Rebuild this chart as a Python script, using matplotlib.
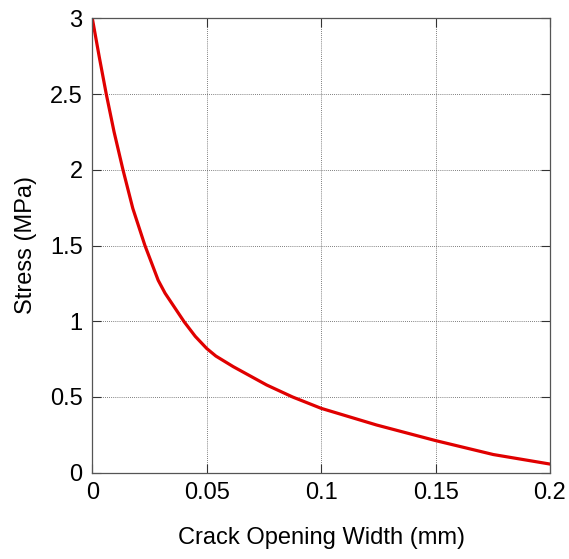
import matplotlib
matplotlib.use("Agg")
import matplotlib.pyplot as plt

width_mm = [0, 0.0031, 0.0061, 0.0095, 0.0134, 0.0177, 0.0230, 0.0288, 0.0318,
            0.0402, 0.0450, 0.0500, 0.0540, 0.0616, 0.0762, 0.0875, 0.1, 0.1242,
            0.15, 0.1752, 0.2]
stress_mpa = [3.0, 2.74, 2.5, 2.251, 2.0, 1.745, 1.5, 1.27, 1.185,
              0.995, 0.90, 0.82, 0.77, 0.70, 0.579, 0.5, 0.425, 0.315,
              0.212, 0.12, 0.057]
xticks = [0, 0.05, 0.1, 0.15, 0.2]
xtick_labels = ["0", "0.05", "0.1", "0.15", "0.2"]
yticks = [0, 0.5, 1, 1.5, 2, 2.5, 3]
ytick_labels = ["0", "0.5", "1", "1.5", "2", "2.5", "3"]

plt.rcParams['font.family'] = ['Liberation Sans', 'DejaVu Sans']

fig = plt.figure(figsize=(5.69, 5.59), dpi=100)
ax = fig.add_axes([92.3/569, 1-472.7/559, (550-92.3)/569, (472.7-18.3)/559])

ax.plot(width_mm, stress_mpa, color='#e00000', lw=2.3,
        solid_capstyle='round', solid_joinstyle='round')

ax.set_xlim(0, 0.2)
ax.set_ylim(0, 3)
ax.set_xticks(xticks)
ax.set_xticklabels(xtick_labels)
ax.set_yticks(yticks)
ax.set_yticklabels(ytick_labels)
ax.grid(True, linestyle=(0, (1, 1.5)), color='#555555', linewidth=0.6)
ax.tick_params(direction='in', length=6.5, width=0.8, colors='#333333',
               labelcolor='black', labelsize=17, top=True, right=True, pad=7)
for sp in ax.spines.values():
    sp.set_color('#555555')
    sp.set_linewidth(0.9)

ax.set_xlabel('Crack Opening Width (mm)', fontsize=17, labelpad=16)
ax.set_ylabel('Stress (MPa)', fontsize=17, labelpad=9)

fig.savefig('out.png', dpi=100)
